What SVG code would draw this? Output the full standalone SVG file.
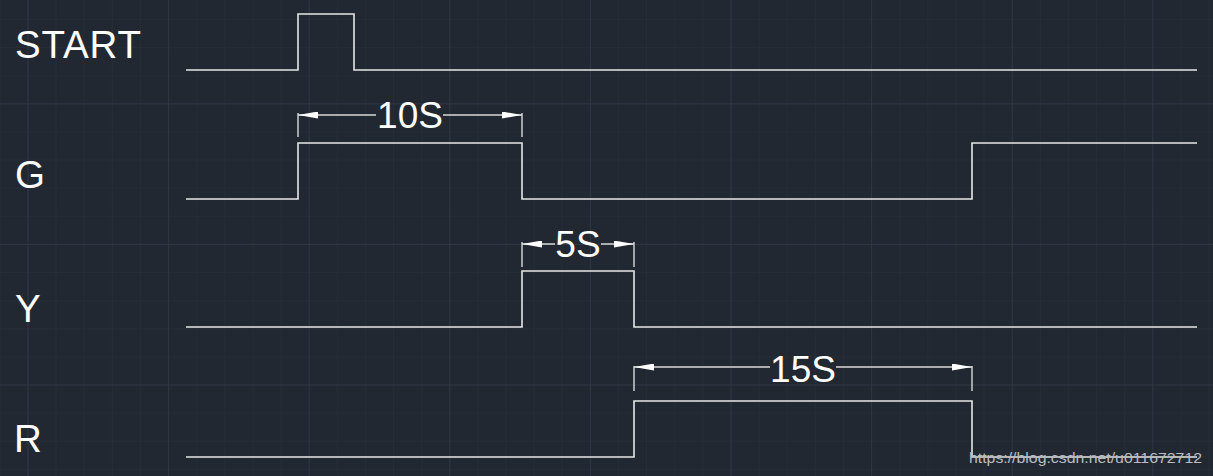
<svg xmlns="http://www.w3.org/2000/svg" width="1213" height="476" viewBox="0 0 1213 476">
<defs>
<pattern id="minor" x="27.5" y="19" width="28.12" height="28.12" patternUnits="userSpaceOnUse">
<path d="M0 0H28.12M0 0V28.12" fill="none" stroke="#29303b" stroke-width="1"/>
</pattern>
<pattern id="major" x="27.5" y="103.3" width="140.6" height="140.6" patternUnits="userSpaceOnUse">
<path d="M0 0H140.6M0 0V140.6" fill="none" stroke="#323949" stroke-width="1.3"/>
</pattern>
<marker id="arr" viewBox="0 0 20 7" refX="20" refY="3.5" markerWidth="20" markerHeight="7" markerUnits="userSpaceOnUse" orient="auto-start-reverse">
<path d="M0 0L20 3.5L0 7Z" fill="#ffffff"/>
</marker>
</defs>
<style>
.sig{fill:none;stroke:#e6e6e6;stroke-width:1.6}
.lbl{font-family:"Liberation Sans",Arial,sans-serif;font-size:38.5px;fill:#ffffff}
.dim{fill:none;stroke:#d8d8d8;stroke-width:1.4}
.dimt{font-family:"Liberation Sans",Arial,sans-serif;font-size:37px;fill:#ffffff;text-anchor:middle}
.wm{font-family:"Liberation Sans",Arial,sans-serif;font-size:15px;fill:#b8bcc2}
</style>
<rect width="1213" height="476" fill="#222831"/>
<rect width="1213" height="476" fill="url(#minor)"/>
<rect width="1213" height="476" fill="url(#major)"/>

<g id="start">
<text class="lbl" x="15" y="58" textLength="126" lengthAdjust="spacing">START</text>
<path class="sig" d="M186 70H298V14H354V70H1197"/>
</g>
<g id="g">
<text class="lbl" x="15" y="188">G</text>
<path class="sig" d="M186 199H298V143H522V199H972V143H1197"/>
</g>
<g id="y">
<text class="lbl" x="15" y="322">Y</text>
<path class="sig" d="M186 327H522V271H634V327H1197"/>
</g>
<g id="r">
<text class="lbl" x="14" y="452">R</text>
<path class="sig" d="M186 457H634V401H972V457H1197"/>
</g>

<g id="connectors">
<g id="dim10">
<path class="dim" d="M298 113V137M522 113V137"/>
<path class="dim" d="M376 115H298" marker-end="url(#arr)"/>
<path class="dim" d="M443 115H522" marker-end="url(#arr)"/>
<text class="dimt" x="410" y="128">10S</text>
</g>
<g id="dim5">
<path class="dim" d="M522 242V267M634 242V267"/>
<path class="dim" d="M555 244H522" marker-end="url(#arr)"/>
<path class="dim" d="M601 244H634" marker-end="url(#arr)"/>
<text class="dimt" x="578" y="257">5S</text>
</g>
<g id="dim15">
<path class="dim" d="M634 366V391M972 366V391"/>
<path class="dim" d="M770 367H634" marker-end="url(#arr)"/>
<path class="dim" d="M836 367H972" marker-end="url(#arr)"/>
<text class="dimt" x="803" y="382">15S</text>
</g>
</g>

<text class="wm" x="969" y="463" textLength="233" lengthAdjust="spacingAndGlyphs">https://blog.csdn.net/u011672712</text>
</svg>
